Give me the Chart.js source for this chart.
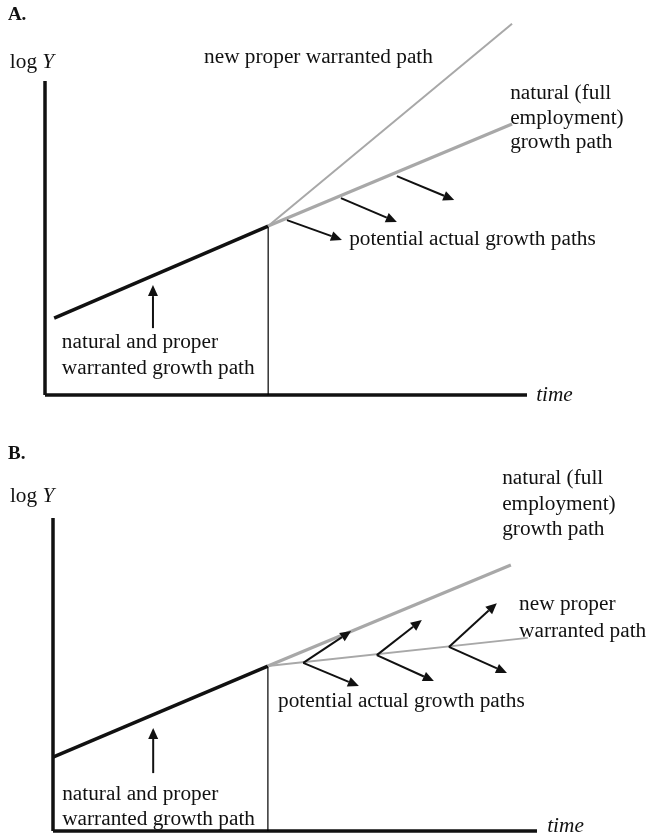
<!DOCTYPE html>
<html>
<head>
<meta charset="utf-8">
<script src="https://cdn.jsdelivr.net/npm/chart.js@4.4.1/dist/chart.umd.min.js"></script>
<style>
  html, body { margin: 0; padding: 0; background: #fff; }
  canvas { display: block; }
</style>
</head>
<body>
<canvas id="panelA" width="649" height="418"></canvas>
<canvas id="panelB" width="649" height="418"></canvas>
<script>
// axes run 0..100 on both panels (time, log Y)
const axisX = [[0, 0], [100, 0]];
const axisY = [[0, 0], [0, 100]];

// Panel A: warranted rate rises above natural
const aPastPath = [[1.9, 24.5], [46.3, 53.8]];
const aShockLine = [[46.3, 0], [46.3, 53.8]];
const aWarrantedPath = [[46.3, 53.8], [96.9, 118.2]];
const aNaturalPath = [[46.3, 53.8], [96.9, 86.3]];
const aArrows = [
  [[22.4, 21.3], [22.4, 35.0]],
  [[50.2, 55.7], [61.6, 49.4]],
  [[61.4, 62.7], [73.0, 55.1]],
  [[73.0, 69.7], [84.9, 62.1]]
];

// Panel B: warranted rate falls below natural
const bPastPath = [[0, 23.6], [44.4, 52.7]];
const bShockLine = [[44.4, 0], [44.4, 52.7]];
const bNaturalPath = [[44.4, 52.7], [94.6, 85.0]];
const bWarrantedPath = [[44.4, 52.7], [98.1, 61.7]];
const bArrows = [
  [[20.7, 18.5], [20.7, 32.9]],
  [[51.7, 53.7], [61.6, 63.9]], [[51.7, 53.7], [63.2, 46.3]],
  [[66.9, 56.2], [76.2, 67.4]], [[66.9, 56.2], [78.7, 47.9]],
  [[81.8, 58.8], [91.7, 72.8]], [[81.8, 58.8], [93.8, 50.5]]
];

const serif = '"Liberation Serif", "Times New Roman", serif';
const gray = '#a8a8a8';
const textSize = 21.3;

const aLabels = [
  { text: 'A.', x: -7.7, y: 121, font: 'bold 19px ' + serif },
  { text: 'log ', italic: 'Y', x: -7.3, y: 106 },
  { text: 'new proper warranted path', x: 33.0, y: 107.6 },
  { text: 'natural (full', x: 96.5, y: 96.2 },
  { text: 'employment)', x: 96.5, y: 88.2 },
  { text: 'growth path', x: 96.5, y: 80.3 },
  { text: 'potential actual growth paths', x: 63.1, y: 49.4 },
  { text: 'natural and proper', x: 3.5, y: 16.9 },
  { text: 'warranted growth path', x: 3.5, y: 8.6 },
  { text: '', italic: 'time', x: 101.9, y: 0 }
];

const bLabels = [
  { text: 'B.', x: -9.3, y: 120.4, font: 'bold 19px ' + serif },
  { text: 'log ', italic: 'Y', x: -8.9, y: 107 },
  { text: 'natural (full', x: 92.8, y: 112.5 },
  { text: 'employment)', x: 92.8, y: 104.5 },
  { text: 'growth path', x: 92.8, y: 96.5 },
  { text: 'new proper', x: 96.3, y: 72.5 },
  { text: 'warranted path', x: 96.3, y: 63.9 },
  { text: 'potential actual growth paths', x: 46.5, y: 41.5 },
  { text: 'natural and proper', x: 1.9, y: 11.8 },
  { text: 'warranted growth path', x: 1.9, y: 3.8 },
  { text: '', italic: 'time', x: 102.1, y: 1.6 }
];

function pts(arr) { return arr.map(p => ({ x: p[0], y: p[1] })); }

function seg(data, color, width) {
  return {
    data: pts(data), borderColor: color, borderWidth: width,
    pointRadius: 0, showLine: true, clip: false, borderCapStyle: 'butt'
  };
}

// arrows and text go through the chart's own scales
const overlayPlugin = {
  id: 'overlay',
  afterDatasetsDraw(chart, args, opts) {
    const ctx = chart.ctx;
    const xs = chart.scales.x, ys = chart.scales.y;
    ctx.save();
    ctx.strokeStyle = '#111';
    ctx.fillStyle = '#111';
    ctx.lineWidth = 2;
    opts.arrows.forEach(a => {
      const x0 = xs.getPixelForValue(a[0][0]), y0 = ys.getPixelForValue(a[0][1]);
      const x1 = xs.getPixelForValue(a[1][0]), y1 = ys.getPixelForValue(a[1][1]);
      const ang = Math.atan2(y1 - y0, x1 - x0);
      const len = 11, half = 5;
      const bx = x1 - len * Math.cos(ang), by = y1 - len * Math.sin(ang);
      ctx.beginPath();
      ctx.moveTo(x0, y0);
      ctx.lineTo(bx, by);
      ctx.stroke();
      ctx.beginPath();
      ctx.moveTo(x1, y1);
      ctx.lineTo(bx + half * Math.sin(ang), by - half * Math.cos(ang));
      ctx.lineTo(bx - half * Math.sin(ang), by + half * Math.cos(ang));
      ctx.closePath();
      ctx.fill();
    });
    ctx.textBaseline = 'middle';
    ctx.textAlign = 'left';
    opts.labels.forEach(l => {
      let px = xs.getPixelForValue(l.x);
      const py = ys.getPixelForValue(l.y);
      ctx.font = l.font || (textSize + 'px ' + serif);
      ctx.fillText(l.text, px, py);
      if (l.italic) {
        px += ctx.measureText(l.text).width;
        ctx.font = 'italic ' + textSize + 'px ' + serif;
        ctx.fillText(l.italic, px, py);
      }
    });
    ctx.restore();
  }
};

function makePanel(id, datasets, arrows, labels, padding) {
  new Chart(document.getElementById(id), {
    type: 'scatter',
    data: { datasets: datasets },
    options: {
      responsive: false,
      animation: false,
      devicePixelRatio: 1,
      layout: { padding: padding },
      scales: {
        x: { type: 'linear', min: 0, max: 100, display: false },
        y: { type: 'linear', min: 0, max: 100, display: false }
      },
      plugins: {
        legend: { display: false },
        tooltip: { enabled: false },
        overlay: { arrows: arrows, labels: labels }
      }
    },
    plugins: [overlayPlugin]
  });
}

makePanel('panelA', [
  seg(aWarrantedPath, gray, 2),
  seg(aNaturalPath, gray, 3.2),
  seg(aShockLine, '#000', 1.2),
  seg(aPastPath, '#111', 3.5),
  seg(axisX, '#111', 3.5),
  seg(axisY, '#111', 3.5)
], aArrows, aLabels, { left: 45, right: 122, top: 81, bottom: 23 });

makePanel('panelB', [
  seg(bNaturalPath, gray, 3.2),
  seg(bWarrantedPath, gray, 2),
  seg(bShockLine, '#000', 1.2),
  seg(bPastPath, '#111', 3.5),
  seg(axisX, '#111', 3.5),
  seg(axisY, '#111', 3.5)
], bArrows, bLabels, { left: 53, right: 112, top: 100, bottom: 5 });
</script>
</body>
</html>
